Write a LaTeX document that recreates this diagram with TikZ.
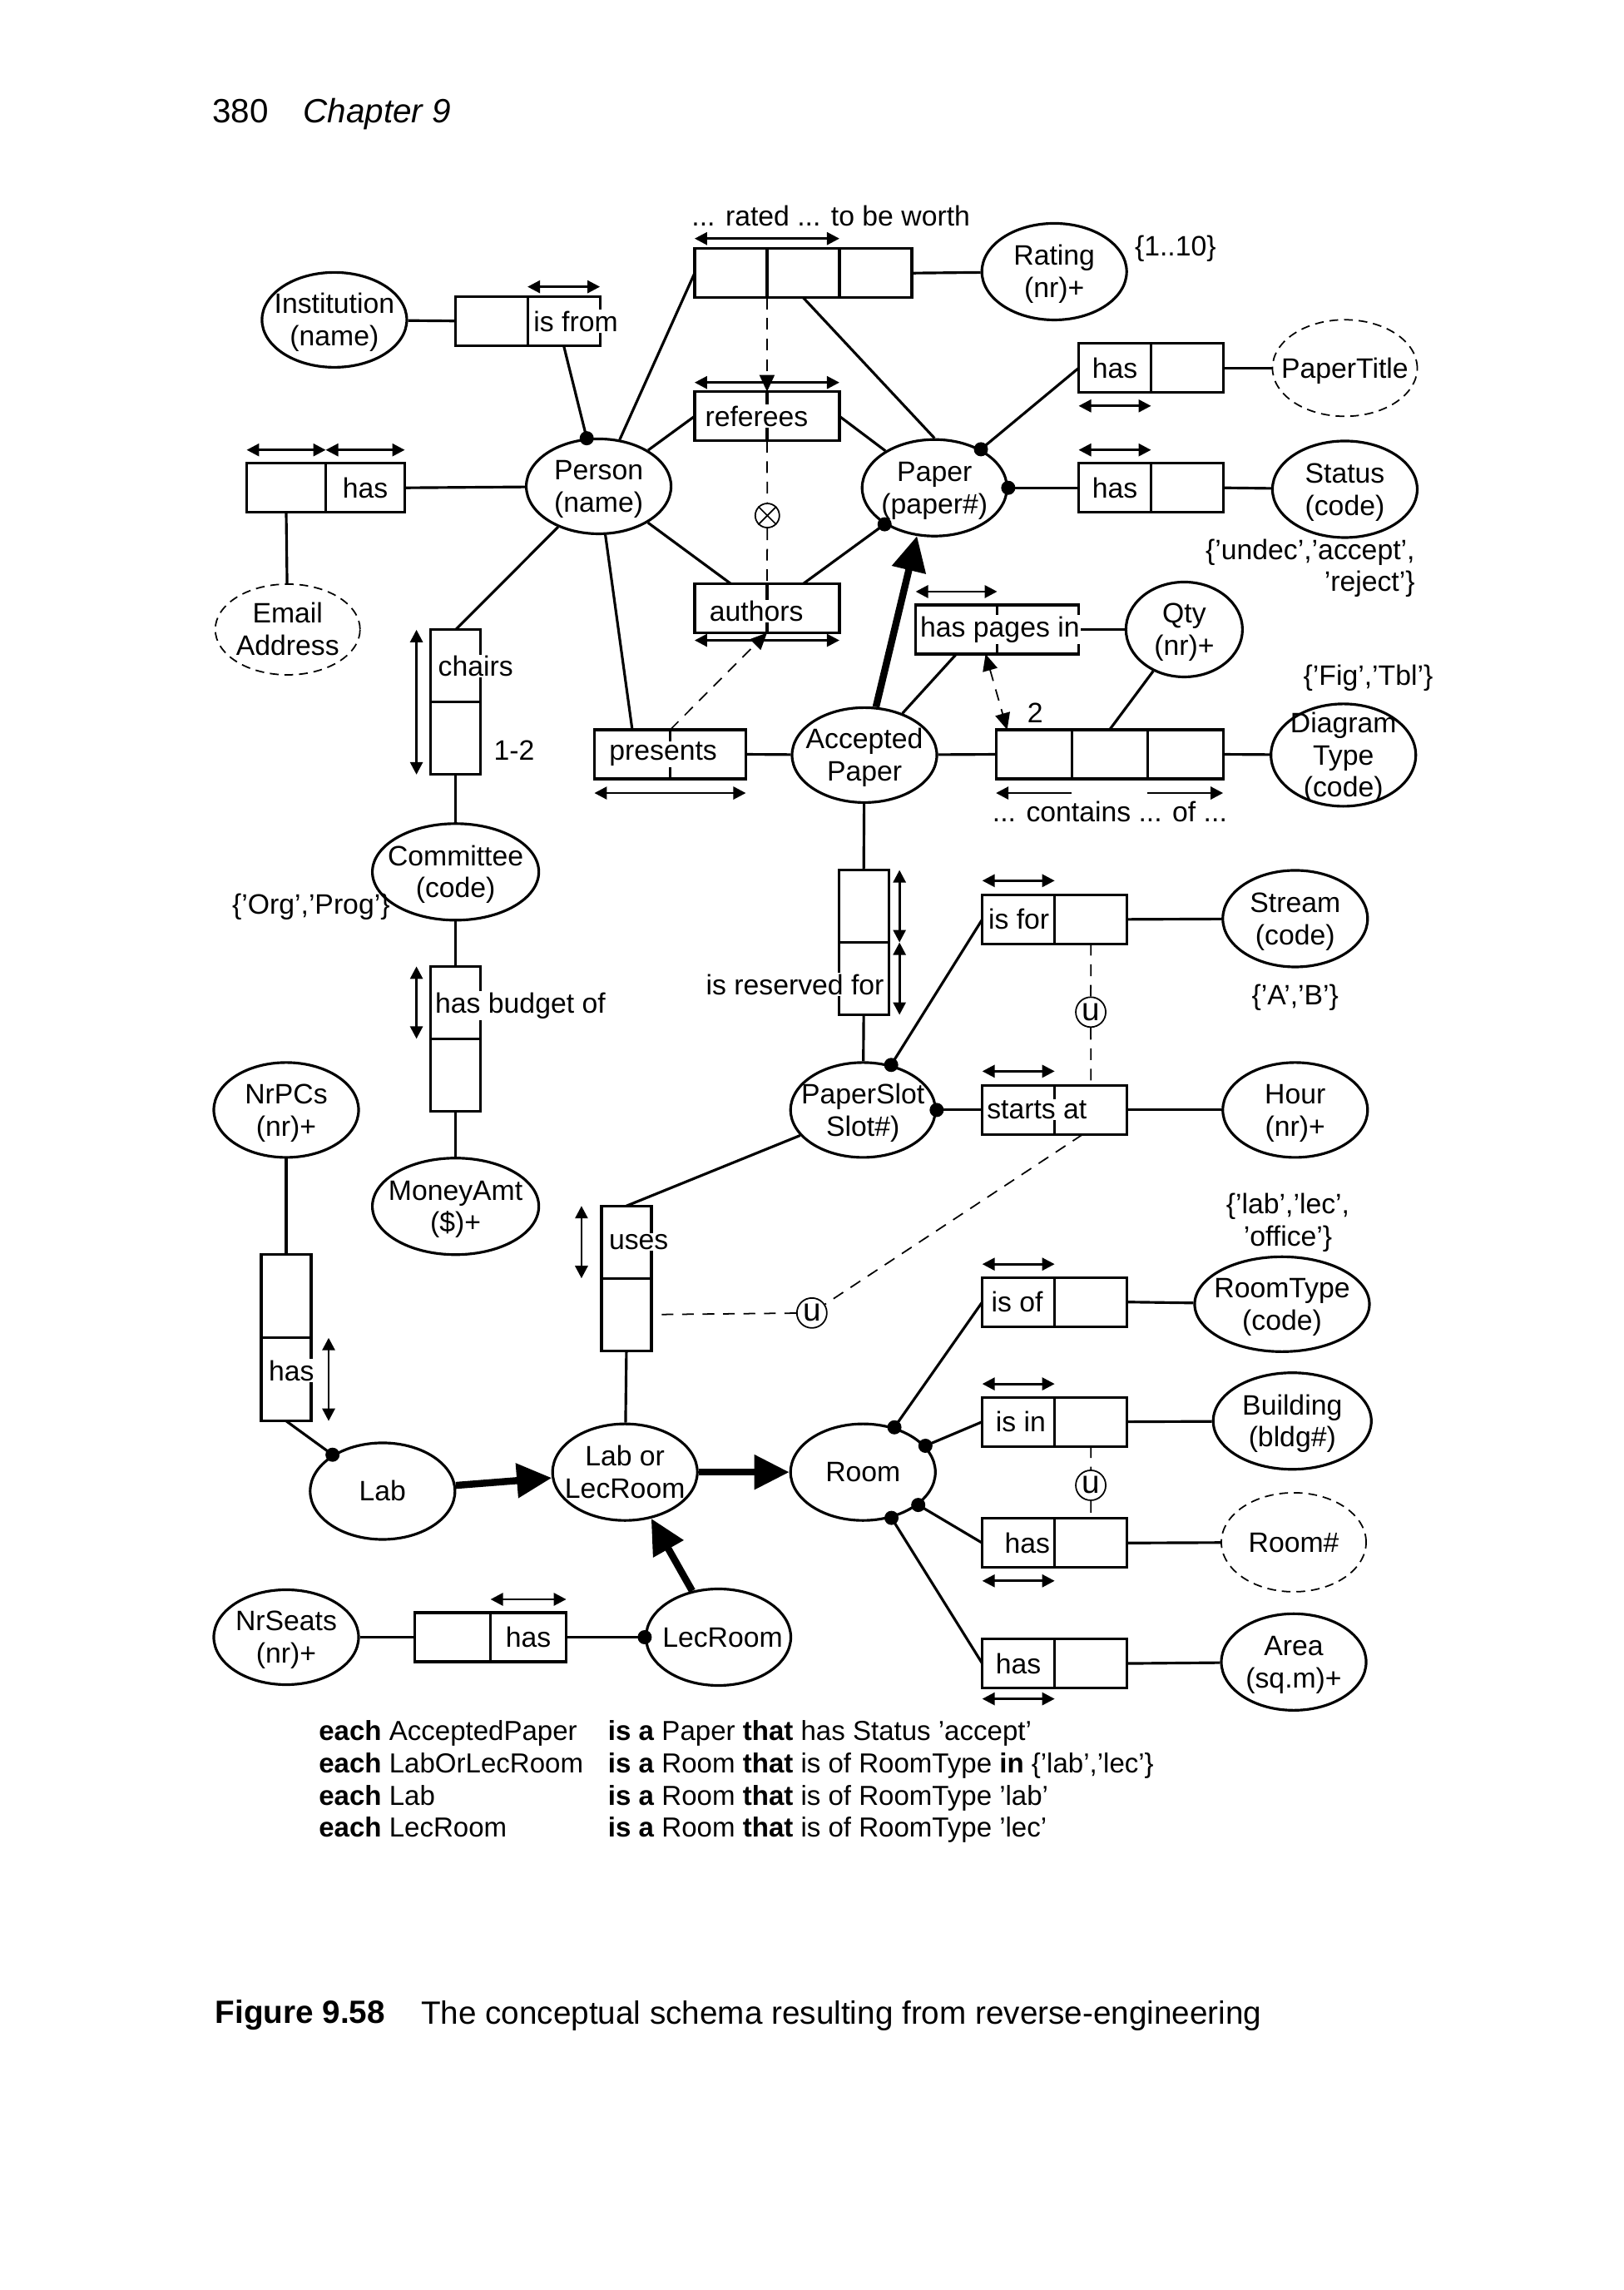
\documentclass[tikz,border=0pt]{standalone}
\usepackage{fontspec}
\setmainfont{Liberation Sans}
\usetikzlibrary{positioning,arrows.meta,shapes.geometric}
\newcommand{\etx}[1]{\smash{\raisebox{-0.38em}{\makebox[0pt]{\begin{tabular}{@{}c@{}}#1\end{tabular}}}}}

\begin{document}
\begin{tikzpicture}[x=0.017554cm, y=-0.017554cm,
  font=\fontsize{9.6}{11}\selectfont,
  ent/.style={draw, ellipse, line width=0.9pt, inner sep=0pt, minimum width=1.74cm, minimum height=1.14cm},
  vent/.style={ent, line width=0.5pt, dash pattern=on 3pt off 2pt},
  rbox/.style={draw, line width=0.9pt, inner sep=0pt, outer sep=0pt, minimum width=0.87cm, minimum height=0.59cm},
  vbox/.style={rbox, minimum width=0.6cm, minimum height=0.87cm},
  rtxt/.style={fill=white, inner sep=0.4pt},
  con/.style={line width=0.9pt},
  dot/.style={circle, fill, inner sep=0pt, minimum size=0.17cm},
  uc/.style={line width=0.8pt, {Triangle[length=1.5mm,width=1.5mm]}-{Triangle[length=1.5mm,width=1.5mm]}},
  ucl/.style={line width=0.8pt, -{Triangle[length=1.5mm,width=1.5mm]}},
  cdash/.style={line width=0.5pt, dash pattern=on 4pt off 3pt},
  ctip/.style={-{Triangle[length=2mm,width=1.8mm]}},
  ucirc/.style={draw, circle, line width=0.5pt, inner sep=0pt, minimum size=0.36cm, font=\fontsize{11}{11}\selectfont},
  sub/.style={line width=2.4pt, -{Triangle[length=4.2mm,width=4mm]}}]
 \fill[white] (0,0) rectangle (1112,1568);
 % header
 \node[anchor=west, inner sep=0pt, font=\fontsize{11.5}{13}\selectfont] (header) at (145,78) {380\hspace{0.42cm}\textit{Chapter 9}};
 % entity types
 \node[ent] (institution) at (229,219) {\etx{Institution\\(name)}};
 \node[ent] (person) at (410,333) {\etx{Person\\(name)}};
 \node[ent, minimum height=1.16cm] (rating) at (722,186) {\etx{Rating\\(nr)+}};
 \node[vent, minimum height=1.16cm] (papertitle) at (921,252) {\etx{PaperTitle}};
 \node[ent, minimum height=1.16cm] (paper) at (640,334) {\etx{Paper\\(paper\#)}};
 \node[ent, minimum height=1.16cm] (status) at (921,335) {\etx{Status\\(code)}};
 \node[vent, minimum height=1.09cm] (email) at (197,431) {\etx{Email\\Address}};
 \node[ent, minimum width=1.4cm] (qty) at (811,431) {\etx{Qty\\(nr)+}};
 \node[ent] (accepted) at (592,517) {\etx{Accepted\\Paper}};
 \node[ent, minimum height=1.23cm] (diagtype) at (920,517) {\etx{Diagram\\Type\\(code)}};
 \node[ent, minimum width=2cm, minimum height=1.16cm] (committee) at (312,597) {\etx{Committee\\(code)}};
 \node[ent, minimum width=2cm, minimum height=1.16cm] (money) at (312,826) {\etx{MoneyAmt\\(\$)+}};
 \node[ent, minimum height=1.16cm] (stream) at (887,629) {\etx{Stream\\(code)}};
 \node[ent] (hour) at (887,760) {\etx{Hour\\(nr)+}};
 \node[ent] (paperslot) at (591,760) {\etx{PaperSlot\\Slot\#)}};
 \node[ent, minimum width=2.1cm] (roomtype) at (878,893) {\etx{RoomType\\(code)}};
 \node[ent] (nrpcs) at (196,760) {\etx{NrPCs\\(nr)+}};
 \node[ent, minimum height=1.16cm] (lab) at (262,1021) {\etx{Lab}};
 \node[ent, minimum height=1.16cm] (lablec) at (428,1008) {\etx{Lab or\\LecRoom}};
 \node[ent, minimum height=1.16cm] (room) at (591,1008) {\etx{Room}};
 \node[ent, minimum width=1.9cm, minimum height=1.16cm] (building) at (885,973) {\etx{Building\\(bldg\#)}};
 \node[vent, minimum height=1.19cm] (roomnr) at (886,1056) {\etx{Room\#}};
 \node[ent, minimum height=1.16cm] (area) at (886,1138) {\etx{Area\\(sq.m)+}};
 \node[ent, minimum height=1.16cm] (lecroom) at (492,1121) {\etx{\hspace{0.1cm}LecRoom}};
 \node[ent] (nrseats) at (196,1121) {\etx{NrSeats\\(nr)+}};
 % fact types
 \node[rbox] (isfrom1) at (336.5,220) {};
 \node[rbox, right=0pt of isfrom1] (isfrom2) {};
 \node[rbox] (rated1) at (500.5,187) {};
 \node[rbox, right=0pt of rated1] (rated2) {};
 \node[rbox, right=0pt of rated2] (rated3) {};
 \node[rbox] (referees1) at (500.5,285) {};
 \node[rbox, right=0pt of referees1] (referees2) {};
 \node[rbox] (authors1) at (500.5,416.5) {};
 \node[rbox, right=0pt of authors1] (authors2) {};
 \node[rbox, minimum width=0.95cm] (email1) at (196,334) {};
 \node[rbox, minimum width=0.95cm, right=0pt of email1] (email2) {};
 \node[rbox] (title1) at (763.5,252) {};
 \node[rbox, right=0pt of title1] (title2) {};
 \node[rbox] (stat1) at (763.5,334) {};
 \node[rbox, right=0pt of stat1] (stat2) {};
 \node[rbox, minimum width=0.98cm] (pages1) at (655,431) {};
 \node[rbox, minimum width=0.98cm, right=0pt of pages1] (pages2) {};
 \node[rbox, minimum width=0.91cm] (contains1) at (708,516.5) {};
 \node[rbox, minimum width=0.91cm, right=0pt of contains1] (contains2) {};
 \node[rbox, minimum width=0.91cm, right=0pt of contains2] (contains3) {};
 \node[rbox, minimum width=0.91cm] (presents1) at (433,516.5) {};
 \node[rbox, minimum width=0.91cm, right=0pt of presents1] (presents2) {};
 \node[vbox] (chairs1) at (312,456) {};
 \node[vbox, below=0pt of chairs1] (chairs2) {};
 \node[vbox] (budget1) at (312,686.5) {};
 \node[vbox, below=0pt of budget1] (budget2) {};
 \node[vbox] (reserved1) at (591.5,620.5) {};
 \node[vbox, below=0pt of reserved1] (reserved2) {};
 \node[rbox] (isfor1) at (697.5,629.5) {};
 \node[rbox, right=0pt of isfor1] (isfor2) {};
 \node[rbox] (starts1) at (697.5,760) {};
 \node[rbox, right=0pt of starts1] (starts2) {};
 \node[vbox] (uses1) at (429,850.5) {};
 \node[vbox, below=0pt of uses1] (uses2) {};
 \node[rbox] (isof1) at (697.5,891.5) {};
 \node[rbox, right=0pt of isof1] (isof2) {};
 \node[rbox] (isin1) at (697.5,973.5) {};
 \node[rbox, right=0pt of isin1] (isin2) {};
 \node[rbox] (roomhas1) at (697.5,1056.5) {};
 \node[rbox, right=0pt of roomhas1] (roomhas2) {};
 \node[rbox] (areahas1) at (697.5,1139) {};
 \node[rbox, right=0pt of areahas1] (areahas2) {};
 \node[vbox, minimum height=1cm] (pcshas1) at (196,887.5) {};
 \node[vbox, minimum height=1cm, below=0pt of pcshas1] (pcshas2) {};
 \node[rbox, minimum width=0.91cm] (seats1) at (310,1121) {};
 \node[rbox, minimum width=0.91cm, right=0pt of seats1] (seats2) {};
 % connectors
 \draw[con] (institution) -- (isfrom1);
 \draw[con] (isfrom2.south) -- node[dot, pos=1] (d-isfrom) {} (person);
 \draw[con] (person) -- (rated1.west);
 \draw[con] (person) -- (referees1.west);
 \draw[con] (person) -- (authors1.north);
 \draw[con] (person) -- (presents1.north);
 \draw[con] (person) -- (chairs1.north);
 \draw[con] (person) -- (email2.east);
 \draw[con] (email1.south) -- (email);
 \draw[con] (rated2.south) -- (paper.north);
 \draw[con] (referees2.east) -- (paper);
 \draw[con] (authors2.north) -- node[dot, pos=1] (d-authors) {} (paper);
 \draw[con] (title1.west) -- node[dot, pos=1] (d-title) {} (paper);
 \draw[con] (paper) -- node[dot, pos=0] (d-stat) {} (stat1.west);
 \draw[con] (pages1.south) -- (accepted);
 \draw[con] (qty) -- (contains2.north);
 \draw[con] (accepted) -- (contains1.west);
 \draw[con] (presents2.east) -- (accepted);
 \draw[con] (chairs2.south) -- (committee);
 \draw[con] (committee) -- (budget1.north);
 \draw[con] (budget2.south) -- (money);
 \draw[con] (accepted) -- (reserved1.north);
 \draw[con] (reserved2.south) -- (paperslot);
 \draw[con] (paperslot) -- node[dot, pos=0] (d-isfor) {} (isfor1.west);
 \draw[con] (paperslot) -- node[dot, pos=0] (d-starts) {} (starts1.west);
 \draw[con] (paperslot) -- (uses1.north);
 \draw[con] (uses2.south) -- (lablec);
 \draw[con] (nrpcs) -- (pcshas1.north);
 \draw[con] (pcshas2.south) -- node[dot, pos=1] (d-lab) {} (lab);
 \draw[con] (nrseats) -- (seats1.west);
 \draw[con] (seats2.east) -- node[dot, pos=1] (d-lec) {} (lecroom);
 \draw[con] (room) -- node[dot, pos=0] (d-isof) {} (isof1.west);
 \draw[con] (room) -- node[dot, pos=0] (d-isin) {} (isin1.west);
 \draw[con] (room) -- node[dot, pos=0] (d-roomhas) {} (roomhas1.west);
 \draw[con] (room) -- node[dot, pos=0] (d-areahas) {} (areahas1.west);
 \foreach \rb/\en in {rated3/rating, title2/papertitle, stat2/status, pages2/qty, contains3/diagtype, isfor2/stream, starts2/hour, isof2/roomtype, isin2/building, roomhas2/roomnr, areahas2/area}
   \draw[con] (\rb.east) -- (\en);
 % subtypes
 \draw[sub] (accepted) -- (paper.-110);
 \draw[sub] (lab) -- (lablec);
 \draw[sub] (lecroom) -- (lablec);
 \draw[sub] (lablec) -- (room);
 % uniqueness constraints
 \draw[uc] ([yshift=0.12cm]isfrom2.north west) -- ([yshift=0.12cm]isfrom2.north east);
 \draw[uc] ([yshift=0.12cm]rated1.north west) -- ([yshift=0.12cm]rated2.north east);
 \draw[uc] ([yshift=0.11cm]referees1.north west) -- ([yshift=0.11cm]referees2.north east);
 \draw[uc] ([yshift=-0.09cm]authors1.south west) -- ([yshift=-0.09cm]authors2.south east);
 \foreach \rb in {email1, email2, stat1, pages1, isof1, isin1, seats2}
   \draw[uc] ([yshift=0.16cm]\rb.north west) -- ([yshift=0.16cm]\rb.north east);
 \foreach \rb in {isfor1, starts1}
   \draw[uc] ([yshift=0.17cm]\rb.north west) -- ([yshift=0.17cm]\rb.north east);
 \foreach \rb in {title1, roomhas1}
   \draw[uc] ([yshift=-0.16cm]\rb.south west) -- ([yshift=-0.16cm]\rb.south east);
 \draw[uc] ([yshift=-0.13cm]areahas1.south west) -- ([yshift=-0.13cm]areahas1.south east);
 \draw[uc] ([yshift=-0.17cm]presents1.south west) -- ([yshift=-0.17cm]presents2.south east);
 \draw[ucl] ([yshift=-0.17cm]contains1.south east) -- ([yshift=-0.17cm]contains1.south west);
 \draw[ucl] ([yshift=-0.17cm]contains3.south west) -- ([yshift=-0.17cm]contains3.south east);
 \draw[uc] ([xshift=-0.17cm]chairs1.north west) -- ([xshift=-0.17cm]chairs2.south west);
 \draw[uc] ([xshift=-0.17cm]budget1.north west) -- ([xshift=-0.17cm]budget1.south west);
 \draw[uc] ([xshift=0.13cm]reserved1.north east) -- ([xshift=0.13cm]reserved1.south east);
 \draw[uc] ([xshift=0.13cm]reserved2.north east) -- ([xshift=0.13cm]reserved2.south east);
 \draw[uc] ([xshift=-0.24cm]uses1.north west) -- ([xshift=-0.24cm]uses1.south west);
 \draw[uc] ([xshift=0.21cm]pcshas2.north east) -- ([xshift=0.21cm]pcshas2.south east);
 % other constraints
 \node[circle, draw, line width=0.5pt, inner sep=0pt, minimum size=0.29cm] (xor) at (525.5,353) {};
 \draw[line width=0.5pt] (xor.45) -- (xor.225) (xor.135) -- (xor.315);
 \node[ucirc] (u1) at (747,693) {u};
 \node[ucirc] (u2) at (556,899) {u};
 \node[ucirc] (u3) at (747,1017) {u};
 \draw[cdash, ctip] (rated1.south east) -- (referees1.north east);
 \draw[cdash] (referees1.south east) -- (xor) -- (authors1.north east);
 \draw[cdash, ctip] (presents1.north east) -- (authors1.south east);
 \draw[cdash, {Triangle[length=2mm,width=1.8mm]}-{Triangle[length=2mm,width=1.8mm]}] ([xshift=-0.14cm]pages1.south east) -- ([xshift=-0.32cm]contains1.north);
 \node (two) at (709,488) {2};
 \draw[cdash] (isfor2.south) -- (u1) -- (starts2.north);
 \draw[cdash] ([xshift=-0.1cm]starts2.south) -- (u2) -- ([xshift=0.05cm]uses2.east);
 \draw[cdash] (isin2.south) -- (u3) -- (roomhas2.north);
 % role texts
 \node[rtxt, anchor=west] (t-isfrom) at ([xshift=1.5pt]isfrom2.west) {is from};
 \node[rtxt, anchor=west] (t-referees) at ([xshift=3pt]referees1.west) {referees};
 \node[rtxt, anchor=west] (t-authors) at ([xshift=4.5pt,yshift=-1pt]authors1.west) {authors};
 \node[rtxt] (t-email) at (email2) {has};
 \node[rtxt] (t-title) at (title1) {has};
 \node[rtxt] (t-stat) at (stat1) {has};
 \node[rtxt, anchor=west] (t-pages) at ([xshift=1pt]pages1.west) {has pages in};
 \node[rtxt, anchor=west] (t-presents) at ([xshift=4.5pt]presents1.west) {presents};
 \node[rtxt, anchor=west] (t-chairs) at ([xshift=2pt]chairs1.west) {chairs};
 \node[anchor=west] (t-12) at ([xshift=1pt,yshift=-4pt]chairs2.east) {1-2};
 \node[rtxt, anchor=west] (t-budget) at ([xshift=1pt,yshift=-1pt]budget1.west) {has budget of};
 \node[rtxt, anchor=east] (t-reserved) at ([xshift=-1pt,yshift=-2pt]reserved2.east) {is reserved for};
 \node[rtxt, anchor=west] (t-isfor) at ([xshift=1.5pt]isfor1.west) {is for};
 \node[rtxt, anchor=west] (t-starts) at ([xshift=1pt]starts1.west) {starts at};
 \node[rtxt, anchor=west] (t-uses) at ([xshift=2pt]uses1.west) {uses};
 \node[rtxt, anchor=west] (t-isof) at ([xshift=2.5pt]isof1.west) {is of};
 \node[rtxt, anchor=west] (t-isin) at ([xshift=4pt]isin1.west) {is in};
 \node[rtxt, anchor=east] (t-roomhas) at ([xshift=-1pt]roomhas1.east) {has};
 \node[rtxt, anchor=west] (t-areahas) at ([xshift=4pt]areahas1.west) {has};
 \node[rtxt, anchor=west] (t-pcshas) at ([xshift=2pt,yshift=3pt]pcshas2.west) {has};
 \node[rtxt] (t-seats) at (seats2) {has};
 \node (l-rated) at (569,148) {... rated ... to be worth};
 \node (l-contains) at (760,556) {... contains ... of ...};
 % value constraints
 \node (v-rating) at (805,170) {\{1..10\}};
 \node[align=right, anchor=east] (v-status) at (976,389) {\{'undec','accept',\\'reject'\}};
 \node (v-diag) at (937,464) {\{'Fig','Tbl'\}};
 \node (v-comm) at (213,621) {\{'Org','Prog'\}};
 \node (v-stream) at (887,683) {\{'A','B'\}};
 \node[align=center] (v-roomtype) at (882,837) {\{'lab','lec',\\'office'\}};
 % subtype definitions
 \node[anchor=north west, inner sep=0pt, font=\fontsize{9.4}{11}\selectfont] (rules) at (218,1176) {\begin{tabular}{@{}p{3.476cm}@{}l@{}}
  \textbf{each} AcceptedPaper & \textbf{is a} Paper \textbf{that} has Status 'accept'\\
  \textbf{each} LabOrLecRoom & \textbf{is a} Room \textbf{that} is of RoomType \textbf{in} \{'lab','lec'\}\\
  \textbf{each} Lab & \textbf{is a} Room \textbf{that} is of RoomType 'lab'\\
  \textbf{each} LecRoom & \textbf{is a} Room \textbf{that} is of RoomType 'lec'
 \end{tabular}};
 % caption
 \node[anchor=west, inner sep=0pt, font=\fontsize{11}{13}\selectfont\bfseries] (capnum) at (147,1380) {Figure 9.58};
 \node[anchor=west, inner sep=0pt, font=\fontsize{11}{13}\selectfont] (captext) at (288,1380) {The conceptual schema resulting from reverse-engineering};
\end{tikzpicture}
\end{document}
